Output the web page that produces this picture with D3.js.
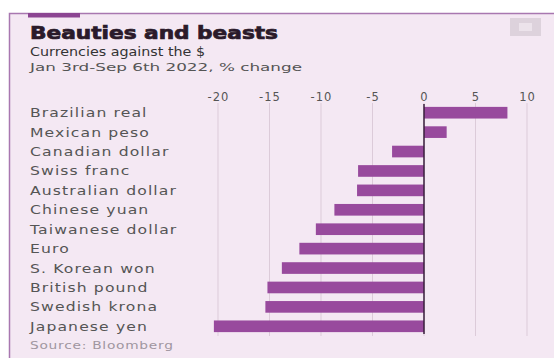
<!DOCTYPE html>
<html>
<head>
<meta charset="utf-8">
<script src="https://cdn.jsdelivr.net/npm/d3@7"></script>
<style>
  body { margin: 0; background: #fff; }
  svg { display: block; }
  text { font-family: "DejaVu Sans", sans-serif; }
</style>
</head>
<body>
<div id="chart"></div>
<script>
// currencies against the $, Jan 3rd - Sep 6th 2022, % change
const currencies = ['Brazilian real', 'Mexican peso', 'Canadian dollar', 'Swiss franc',
    'Australian dollar', 'Chinese yuan', 'Taiwanese dollar', 'Euro', 'S. Korean won',
    'British pound', 'Swedish krona', 'Japanese yen'];
const change = [8.1, 2.2, -3.1, -6.4, -6.5, -8.7, -10.5, -12.1, -13.8, -15.2, -15.4, -20.4];
const ticks = [-20, -15, -10, -5, 0, 5, 10];

const [width, height] = [554, 358];
const bg = '#f4e8f3';
const barColour = '#984a9d';
// the original face is wide, so labels get stretched sideways a bit
const stretch = 1.25;

const svg = d3.select('#chart')
    .append('svg')
    .attr('width', width)
    .attr('height', height);

// panel + frame
svg.append('rect')
    .attr('x', 9).attr('y', 13)
    .attr('width', width - 9).attr('height', height - 13)
    .attr('fill', bg);
svg.append('path')
    .attr('d', `M9.5,${height} V13.5 H${width}`)
    .attr('fill', 'none')
    .attr('stroke', '#a877b0')
    .attr('stroke-width', 1.5);
svg.append('rect')
    .attr('x', 28).attr('y', 13)
    .attr('width', 52).attr('height', 4.5)
    .attr('fill', '#8c4592');

// share icon, top right
svg.append('rect')
    .attr('x', 510).attr('y', 18)
    .attr('width', 31).attr('height', 18)
    .attr('fill', '#ddd2dc');
svg.append('rect')
    .attr('x', 519).attr('y', 23)
    .attr('width', 13).attr('height', 8)
    .attr('fill', '#ece3eb');

// titles
svg.append('text')
    .attr('x', 30).attr('y', 39)
    .attr('textLength', 248).attr('lengthAdjust', 'spacingAndGlyphs')
    .style('font-size', '17px').style('font-weight', 'bold')
    .attr('fill', '#2a1a2a')
    .attr('stroke', '#2a1a2a').attr('stroke-width', 0.7)
    .text('Beauties and beasts');
svg.append('text')
    .attr('x', 30).attr('y', 56)
    .attr('textLength', 175).attr('lengthAdjust', 'spacingAndGlyphs')
    .style('font-size', '12.5px')
    .attr('fill', '#333')
    .text('Currencies against the $');
svg.append('text')
    .attr('x', 30).attr('y', 71)
    .attr('textLength', 272).attr('lengthAdjust', 'spacingAndGlyphs')
    .style('font-size', '11px')
    .attr('fill', '#555')
    .text('Jan 3rd-Sep 6th 2022, % change');

// scales
const x = d3.scaleLinear()
    .domain([-20, 10])
    .range([218, 527]);

const y = d3.scaleBand()
    .domain(currencies)
    .range([103, 336])
    .paddingInner(0.4)
    .paddingOuter(0.2);

// gridlines
svg.append('g')
    .selectAll('line')
    .data(ticks)
    .join('line')
    .attr('x1', (d) => x(d)).attr('x2', (d) => x(d))
    .attr('y1', 103).attr('y2', 336)
    .attr('stroke', '#dccbd9')
    .attr('stroke-width', 1);

// top axis
const xAxis = d3.axisTop(x)
    .tickValues(ticks)
    .tickSize(0)
    .tickPadding(0)
    .tickFormat((d) => d < 0 ? '-' + Math.abs(d) : d);

const gx = svg.append('g')
    .attr('transform', 'translate(0 101)')
    .call(xAxis);
gx.select('.domain').remove();
gx.selectAll('text')
    .attr('fill', '#555')
    .style('font-size', '11.5px')
    .style('letter-spacing', '1px');

// bars
svg.append('g')
    .selectAll('rect')
    .data(change)
    .join('rect')
    .attr('x', (d) => x(Math.min(0, d)))
    .attr('y', (d, i) => y(currencies[i]))
    .attr('width', (d) => Math.abs(x(d) - x(0)))
    .attr('height', y.bandwidth())
    .attr('fill', barColour);

// zero line
svg.append('line')
    .attr('x1', x(0)).attr('x2', x(0))
    .attr('y1', 104).attr('y2', 334)
    .attr('stroke', '#3a1f3c')
    .attr('stroke-width', 1.5);

// category labels
svg.append('g')
    .attr('transform', `translate(30 0) scale(${stretch} 1)`)
    .selectAll('text')
    .data(currencies)
    .join('text')
    .attr('x', 0)
    .attr('y', (d) => y(d) + y.bandwidth() / 2)
    .attr('dy', '0.36em')
    .attr('fill', '#555')
    .style('font-size', '12.5px')
    .style('letter-spacing', '0.9px')
    .text((d) => d);

// source
svg.append('g')
    .attr('transform', `translate(30 0) scale(${stretch} 1)`)
    .append('text')
    .attr('x', 0).attr('y', 349)
    .attr('fill', '#a096a0')
    .style('font-size', '11px')
    .style('letter-spacing', '0.6px')
    .text('Source: Bloomberg');
</script>
</body>
</html>
